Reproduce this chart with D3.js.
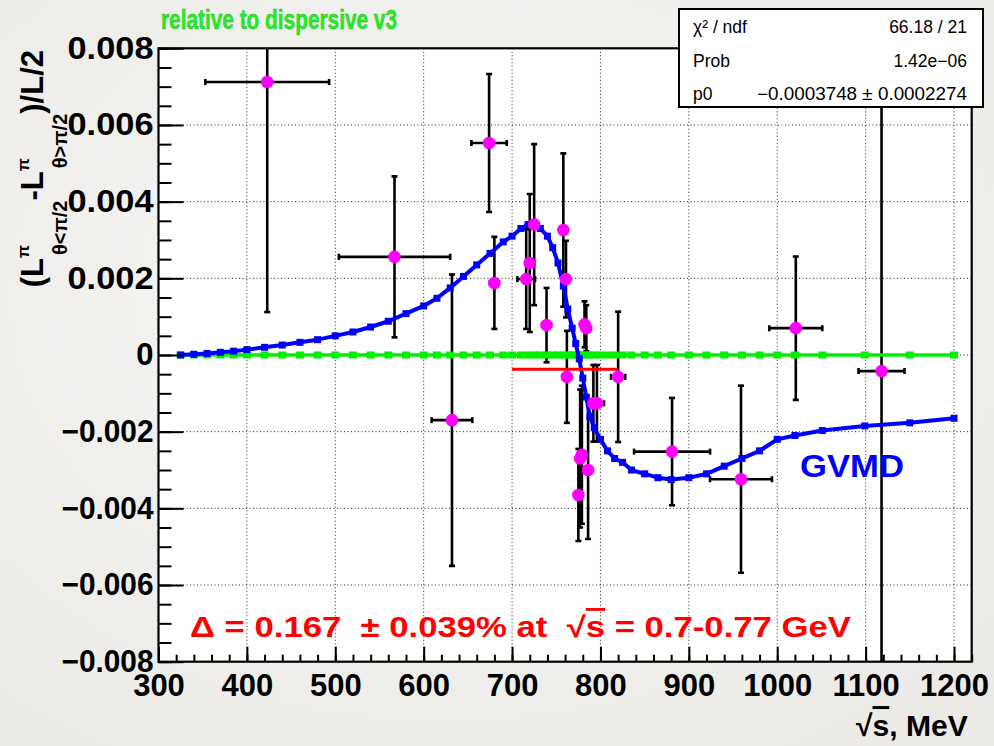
<!DOCTYPE html>
<html>
<head>
<meta charset="utf-8">
<script src="https://cdn.jsdelivr.net/npm/d3@7"></script>
<style>
  html, body { margin: 0; padding: 0; background: #f2f1ef; }
  svg { display: block; font-family: "Liberation Sans", Arial, sans-serif; }
</style>
</head>
<body>
<svg id="chart" width="994" height="746"></svg>
<script>
// measured points: sqrt(s) [MeV], asymmetry, x half-width, y error
const ptX    = [423, 567, 632, 674, 680, 716, 720, 725, 739, 758, 761, 762, 775, 777, 779, 782, 784, 786, 792, 796, 820, 881, 959, 1021, 1118];
const ptY    = [0.00712, 0.00256, -0.00170, 0.00553, 0.00188, 0.00198, 0.00240, 0.00340, 0.00078, 0.00326, 0.00198, -0.00057, -0.00365, -0.00270, -0.00260, 0.00080, 0.00070, -0.00300, -0.00126, -0.00126, -0.00057, -0.00252, -0.00324, 0.00070, -0.00042];
const ptXerr = [70, 63, 23, 20, 5, 10, 5, 5, 5, 3, 3, 5, 3, 3, 3, 3, 3, 3, 3, 8, 8, 43, 35, 30, 26];
const ptYerr = [0.0060, 0.0021, 0.0038, 0.0018, 0.0012, 0.0013, 0.0018, 0.0021, 0.00097, 0.0020, 0.0010, 0.0012, 0.0012, 0.0018, 0.0018, 0.0006, 0.0006, 0.0018, 0.0010, 0.0010, 0.0017, 0.0014, 0.00244, 0.00187, 0.0200];

// GVMD model curve
const gvmdX = [325, 340, 355, 370, 385, 400, 420, 440, 460, 480, 500, 520, 540, 560, 580, 600, 615, 630, 645, 660, 675, 690, 700, 710, 718, 725, 732, 740, 746, 752, 758, 763, 768, 772, 776, 780, 784, 788, 793, 800, 808, 816, 825, 835, 850, 865, 880, 900, 920, 940, 960, 980, 1000, 1020, 1051, 1099, 1150, 1200];
const gvmdY = [0, 0.00002, 0.00004, 0.00007, 0.0001, 0.00014, 0.0002, 0.00026, 0.00033, 0.0004, 0.0005, 0.0006, 0.00073, 0.00088, 0.00108, 0.00128, 0.00148, 0.00175, 0.00205, 0.00235, 0.00265, 0.00295, 0.0031, 0.0033, 0.0034, 0.00345, 0.0033, 0.0031, 0.0028, 0.0024, 0.0018, 0.0012, 0.0007, 0.0003, -0.0001, -0.0006, -0.0011, -0.0016, -0.0019, -0.0022, -0.0025, -0.0027, -0.0028, -0.003, -0.0031, -0.0032, -0.00325, -0.0032, -0.0031, -0.0029, -0.0027, -0.0025, -0.0022, -0.0021, -0.00197, -0.00185, -0.00177, -0.00165];

// dispersive reference (zero line), same grid
const dispX = gvmdX;
const dispY = gvmdX.map(() => 0);

// constant fit p0 over 700-820 MeV
const fitX = [700, 820];
const fitY = [-0.0003748, -0.0003748];

const xTicks = [300, 400, 500, 600, 700, 800, 900, 1000, 1100, 1200];
const yTicks = [-0.008, -0.006, -0.004, -0.002, 0, 0.002, 0.004, 0.006, 0.008];

const statsRows = [
  ['χ² / ndf', '66.18 / 21'],
  ['Prob', '1.42e\u221206'],
  ['p0', '\u22120.0003748 \u00b1 0.0002274']
];

const margin = {top: 48.3, right: 22.3, bottom: 84.3, left: 158.5};
const W = 994, H = 746;
const width = W - margin.left - margin.right;
const height = H - margin.top - margin.bottom;
const FONT = '"Liberation Sans", Arial, sans-serif';

const svg = d3.select('#chart');

// stretch a start-anchored text horizontally to a given width
function fitWidth(sel, x0, target) {
  const w = sel.node().getBBox().width;
  const k = target / w;
  sel.attr('transform', 'translate(' + x0 + ',0) scale(' + k + ',1) translate(' + (-x0) + ',0)');
}

// paper-like background
const defs = svg.append('defs');
const grad = defs.append('radialGradient').attr('id', 'bg').attr('cx', '45%').attr('cy', '40%').attr('r', '75%');
grad.append('stop').attr('offset', '0%').attr('stop-color', '#f7f6f4');
grad.append('stop').attr('offset', '100%').attr('stop-color', '#eceae7');
svg.append('rect').attr('width', W).attr('height', H).attr('fill', 'url(#bg)');

defs.append('clipPath').attr('id', 'clip')
  .append('rect').attr('width', width).attr('height', height);

const g = svg.append('g').attr('transform', 'translate(' + margin.left + ',' + margin.top + ')');

const x = d3.scaleLinear().domain([300, 1220]).range([0, width]);
const y = d3.scaleLinear().domain([-0.008, 0.008]).range([height, 0]);

g.append('rect').attr('width', width).attr('height', height).attr('fill', '#fff');

// grid
g.selectAll('.gx').data(xTicks.filter(d => d > 300))
  .enter().append('line')
    .attr('x1', d => x(d)).attr('x2', d => x(d))
    .attr('y1', 0).attr('y2', height)
    .attr('stroke', '#222').attr('stroke-width', 1).attr('stroke-dasharray', '1,2.5');
g.selectAll('.gy').data(yTicks.filter(d => d > -0.008 && d < 0.008))
  .enter().append('line')
    .attr('x1', 0).attr('x2', width)
    .attr('y1', d => y(d)).attr('y2', d => y(d))
    .attr('stroke', '#222').attr('stroke-width', 1).attr('stroke-dasharray', '1,2.5');

const plot = g.append('g').attr('clip-path', 'url(#clip)');

// error bars
const cap = 3;
const eb = plot.append('g').attr('stroke', '#000').attr('stroke-width', 2.6);
ptX.forEach((vx, i) => {
  const cx = x(vx), cy = y(ptY[i]);
  const x0 = x(vx - ptXerr[i]), x1 = x(vx + ptXerr[i]);
  const y0 = y(ptY[i] + ptYerr[i]), y1 = y(ptY[i] - ptYerr[i]);
  eb.append('line').attr('x1', x0).attr('x2', x1).attr('y1', cy).attr('y2', cy);
  eb.append('line').attr('x1', cx).attr('x2', cx).attr('y1', y0).attr('y2', y1);
  eb.append('line').attr('x1', x0).attr('x2', x0).attr('y1', cy - cap).attr('y2', cy + cap);
  eb.append('line').attr('x1', x1).attr('x2', x1).attr('y1', cy - cap).attr('y2', cy + cap);
  eb.append('line').attr('x1', cx - cap).attr('x2', cx + cap).attr('y1', y0).attr('y2', y0);
  eb.append('line').attr('x1', cx - cap).attr('x2', cx + cap).attr('y1', y1).attr('y2', y1);
});

const line = d3.line().x(d => x(d[0])).y(d => y(d[1]));

// green zero line
const disp = d3.zip(dispX, dispY);
plot.append('path').datum(disp).attr('d', line)
  .attr('fill', 'none').attr('stroke', '#00f000').attr('stroke-width', 3.6);
plot.selectAll('.gm').data(disp).enter().append('rect')
  .attr('x', d => x(d[0]) - 4).attr('y', d => y(d[1]) - 3.5)
  .attr('width', 8).attr('height', 7).attr('fill', '#00f000');

// blue GVMD curve
const gvmd = d3.zip(gvmdX, gvmdY);
plot.append('path').datum(gvmd).attr('d', line)
  .attr('fill', 'none').attr('stroke', '#0000ff').attr('stroke-width', 4)
  .attr('stroke-linejoin', 'round');
plot.selectAll('.bm').data(gvmd).enter().append('rect')
  .attr('x', d => x(d[0]) - 3.5).attr('y', d => y(d[1]) - 3.5)
  .attr('width', 7).attr('height', 7).attr('fill', '#0000ff');

// red fit
plot.append('path').datum(d3.zip(fitX, fitY)).attr('d', line)
  .attr('fill', 'none').attr('stroke', '#ff0000').attr('stroke-width', 3);

// data markers
plot.selectAll('.dot').data(ptX).enter().append('circle')
  .attr('cx', d => x(d)).attr('cy', (d, i) => y(ptY[i]))
  .attr('r', 6.3).attr('fill', '#ff00ff');

// axes with inward ticks
const xMinor = d3.range(300, 1221, 20);
const yMinor = d3.range(-0.008, 0.00801, 0.0005);

g.append('g').attr('transform', 'translate(0,' + height + ')')
  .call(d3.axisBottom(x).tickValues(xMinor).tickSize(-7).tickFormat(''))
  .call(a => a.select('.domain').remove())
  .selectAll('line').attr('stroke', '#000').attr('stroke-width', 2);
const xa = g.append('g').attr('transform', 'translate(0,' + height + ')')
  .call(d3.axisBottom(x).tickValues(xTicks).tickSize(-15).tickPadding(12).tickFormat(d3.format('d')));
xa.select('.domain').remove();
xa.selectAll('line').attr('stroke', '#000').attr('stroke-width', 2);
xa.selectAll('text').attr('font-size', 31).attr('font-weight', 'bold').attr('fill', '#000')
  .attr('font-family', FONT);

g.append('g')
  .call(d3.axisLeft(y).tickValues(yMinor).tickSize(-13).tickFormat(''))
  .call(a => a.select('.domain').remove())
  .selectAll('line').attr('stroke', '#000').attr('stroke-width', 2);
const ya = g.append('g')
  .call(d3.axisLeft(y).tickValues(yTicks).tickSize(-25).tickPadding(5)
    .tickFormat(d => d === 0 ? '0' : d3.format('.3f')(d)));
ya.select('.domain').remove();
ya.selectAll('line').attr('stroke', '#000').attr('stroke-width', 2);
ya.selectAll('text').attr('font-size', 31).attr('font-weight', 'bold').attr('fill', '#000')
  .attr('font-family', FONT)
  .attr('textLength', d => d === 0 ? null : (d < 0 ? 92 : 86))
  .attr('lengthAdjust', 'spacingAndGlyphs');

// frame
g.append('rect').attr('width', width).attr('height', height)
  .attr('fill', 'none').attr('stroke', '#000').attr('stroke-width', 2.2);

// title
svg.append('text').attr('x', 161).attr('y', 29)
  .attr('font-size', 27).attr('font-weight', 'bold').attr('fill', '#22ee22')
  .attr('stroke', '#1bb81b').attr('stroke-width', 0.4)
  .attr('textLength', 236).attr('lengthAdjust', 'spacingAndGlyphs')
  .text('relative to dispersive v3');

// y axis title
const yt = svg.append('text')
  .attr('transform', 'translate(43,50) rotate(-90)')
  .attr('text-anchor', 'end').attr('font-size', 31).attr('font-weight', 'bold').attr('fill', '#000');
yt.append('tspan').text('(L');
yt.append('tspan').attr('font-size', 17).attr('dy', -14).text('π');
yt.append('tspan').attr('font-size', 20).attr('dx', -10).attr('dy', 38).text('θ<π/2');
yt.append('tspan').attr('dy', -24).text('-L');
yt.append('tspan').attr('font-size', 17).attr('dy', -14).text('π');
yt.append('tspan').attr('font-size', 20).attr('dx', -10).attr('dy', 38).text('θ>π/2');
yt.append('tspan').attr('dy', -24).text(')/L/2');

// x axis title
const xt = svg.append('text').attr('x', 856).attr('y', 736)
  .attr('font-size', 30).attr('font-weight', 'bold').attr('fill', '#000');
xt.append('tspan').text('√');
xt.append('tspan').style('text-decoration', 'overline').text('s');
xt.append('tspan').text(', MeV');
fitWidth(xt, 856, 112);

// annotation
const an = svg.append('text').attr('x', 190).attr('y', 637)
  .attr('font-size', 29).attr('font-weight', 'bold').attr('fill', '#ff0000');
an.append('tspan').text('Δ = 0.167  \u00b1 0.039% at  \u221a');
an.append('tspan').style('text-decoration', 'overline').text('s');
an.append('tspan').text(' = 0.7-0.77 GeV');
an.attr('xml:space', 'preserve').style('white-space', 'pre');
fitWidth(an, 190, 662);

// GVMD label
svg.append('text').attr('x', 800).attr('y', 477)
  .attr('font-size', 31).attr('font-weight', 'bold').attr('fill', '#0000ff')
  .attr('textLength', 104).attr('lengthAdjust', 'spacingAndGlyphs').text('GVMD');

// stats box
const sb = svg.append('g');
sb.append('rect').attr('x', 679).attr('y', 9).attr('width', 304).attr('height', 98)
  .attr('fill', '#fff').attr('stroke', '#000').attr('stroke-width', 2);
statsRows.forEach((r, i) => {
  sb.append('text').attr('x', 693).attr('y', 33 + i * 33.5)
    .attr('font-size', 17.5).attr('fill', '#000').text(r[0]);
  const t = sb.append('text').attr('x', 967).attr('y', 33 + i * 33.5).attr('text-anchor', 'end')
    .attr('font-size', 17.5).attr('fill', '#000').text(r[1]);
  if (i === 2) t.attr('textLength', 210).attr('lengthAdjust', 'spacingAndGlyphs');
});
</script>
</body>
</html>
